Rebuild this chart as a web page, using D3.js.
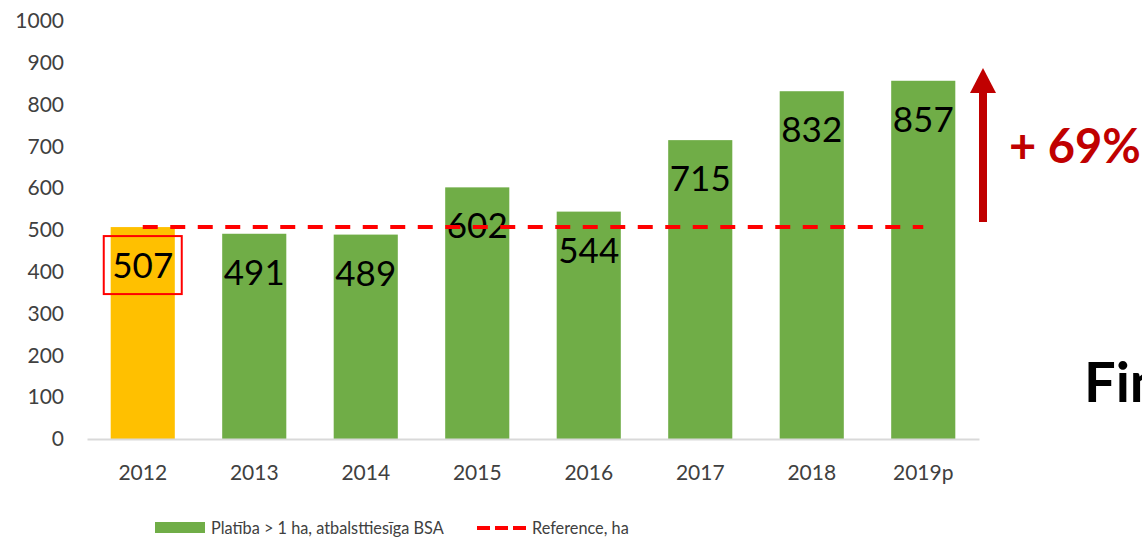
<!DOCTYPE html>
<html>
<head>
<meta charset="utf-8">
<script src="https://cdn.jsdelivr.net/npm/d3@7"></script>
<style>
  body { margin: 0; background: #fff; }
  svg { display: block; font-family: Lato, "Open Sans", sans-serif; }
</style>
</head>
<body>
<div id="chart"></div>
<script>
// data
var years = ['2012', '2013', '2014', '2015', '2016', '2017', '2018', '2019p'];
var area = [507, 491, 489, 602, 544, 715, 832, 857];
var reference = [507, 507, 507, 507, 507, 507, 507, 507];
var yTicks = [0, 100, 200, 300, 400, 500, 600, 700, 800, 900, 1000];
var areaName = 'Platība > 1 ha, atbalsttiesīga BSA';
var refName = 'Reference, ha';
var growthText = '+ 69%';

var width = 1142, height = 541;

var svg = d3.select('#chart').append('svg')
    .attr('width', width)
    .attr('height', height);

var x = d3.scaleBand()
    .domain(years)
    .range([87, 979])
    .paddingInner(0.425)
    .paddingOuter(0.2125);

var y = d3.scaleLinear()
    .domain([0, 1000])
    .range([439, 21]);

// y axis labels only (no line)
var yAxis = svg.append('g')
    .attr('transform', 'translate(64,0)')
    .call(d3.axisLeft(y).tickValues(yTicks).tickFormat(d3.format('d')).tickSize(0).tickPadding(0));
yAxis.select('.domain').remove();
yAxis.selectAll('text')
    .attr('font-family', 'Lato, sans-serif')
    .attr('font-size', 21)
    .attr('fill', '#404040');

// bars
svg.selectAll('rect.bar')
    .data(area)
    .enter()
    .append('rect')
    .attr('class', 'bar')
    .attr('x', function (d, i) { return x(years[i]); })
    .attr('width', x.bandwidth())
    .attr('y', function (d) { return y(d); })
    .attr('height', function (d) { return y(0) - y(d); })
    .attr('fill', function (d, i) { return i == 0 ? '#FFC000' : '#70AD47'; });

// x axis
var xAxis = svg.append('g')
    .attr('transform', 'translate(0,' + y(0) + ')')
    .call(d3.axisBottom(x).tickSize(0).tickPadding(26));
xAxis.select('.domain')
    .attr('stroke', '#d9d9d9')
    .attr('stroke-width', 2);
xAxis.selectAll('text')
    .attr('font-family', 'Lato, sans-serif')
    .attr('font-size', 21)
    .attr('fill', '#404040');

// bar value labels
svg.selectAll('text.val')
    .data(area)
    .enter()
    .append('text')
    .attr('class', 'val')
    .attr('x', function (d, i) { return x(years[i]) + x.bandwidth() / 2; })
    .attr('y', function (d) { return y(d) + 51; })
    .attr('text-anchor', 'middle')
    .attr('font-size', 35)
    .attr('fill', '#000')
    .text(function (d) { return d; });

// red box round the first label
var bx = x(years[0]) + x.bandwidth() / 2;
svg.append('rect')
    .attr('x', bx - 39)
    .attr('y', y(area[0]) + 9)
    .attr('width', 78)
    .attr('height', 58)
    .attr('fill', 'none')
    .attr('stroke', '#FF0000')
    .attr('stroke-width', 2);

// reference line
var line = d3.line()
    .x(function (d, i) { return x(years[i]) + x.bandwidth() / 2; })
    .y(function (d) { return y(d); });
svg.append('path')
    .datum(reference)
    .attr('d', line)
    .attr('fill', 'none')
    .attr('stroke', '#FF0000')
    .attr('stroke-width', 4)
    .attr('stroke-dasharray', '15,12.5');

// growth arrow
var ax = 983;
svg.append('rect')
    .attr('x', ax - 4)
    .attr('y', 92)
    .attr('width', 8)
    .attr('height', 130)
    .attr('fill', '#C00000');
svg.append('path')
    .attr('d', 'M' + (ax - 13) + ',93 L' + ax + ',68 L' + (ax + 13) + ',93 Z')
    .attr('fill', '#C00000');
svg.append('text')
    .attr('x', 1009)
    .attr('y', 163)
    .attr('font-size', 47)
    .attr('font-weight', 'bold')
    .attr('fill', '#C00000')
    .text(growthText);

// title on the right, cut off by the edge as in the original
svg.append('text')
    .attr('x', 1084)
    .attr('y', 402)
    .attr('font-size', 56)
    .attr('font-weight', 'bold')
    .attr('fill', '#000')
    .text('Fin');

// legend
var lg = svg.append('g');
lg.append('rect')
    .attr('x', 155).attr('y', 522)
    .attr('width', 50).attr('height', 11)
    .attr('fill', '#70AD47');
lg.append('text')
    .attr('x', 211).attr('y', 534)
    .attr('font-size', 16.3)
    .attr('fill', '#404040')
    .text(areaName);
lg.append('line')
    .attr('x1', 477).attr('x2', 527)
    .attr('y1', 528).attr('y2', 528)
    .attr('stroke', '#FF0000')
    .attr('stroke-width', 4)
    .attr('stroke-dasharray', '13,5');
lg.append('text')
    .attr('x', 532).attr('y', 534)
    .attr('font-size', 16.3)
    .attr('fill', '#404040')
    .text(refName);
</script>
</body>
</html>
